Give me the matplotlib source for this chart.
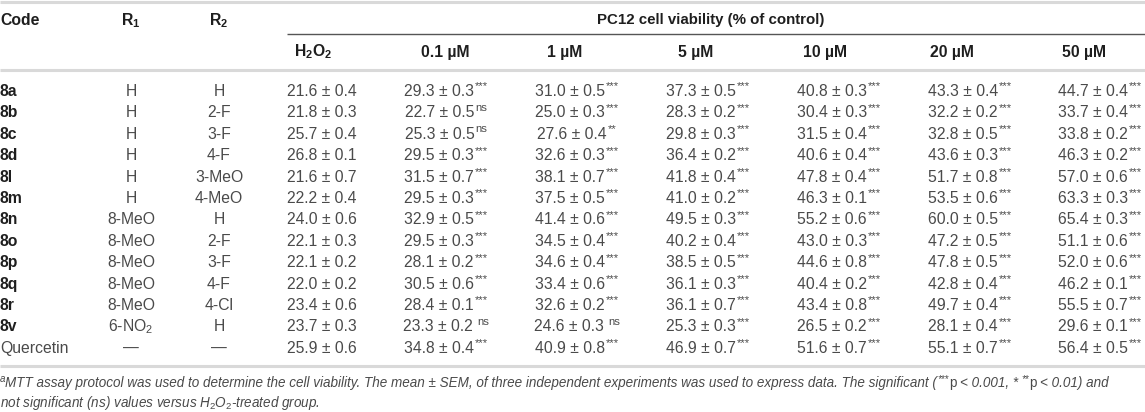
import matplotlib
matplotlib.use('Agg')
import matplotlib.pyplot as plt

plt.rcParams['font.family'] = ['Liberation Sans', 'DejaVu Sans']
plt.rcParams['mathtext.fontset'] = 'custom'
plt.rcParams['mathtext.rm'] = 'Liberation Sans'
plt.rcParams['mathtext.it'] = 'Liberation Sans:italic'
plt.rcParams['mathtext.bf'] = 'Liberation Sans:bold'

# table data
codes = ['8a', '8b', '8c', '8d', '8l', '8m', '8n', '8o', '8p', '8q', '8r', '8v', 'Quercetin']
r1 = ['H', 'H', 'H', 'H', 'H', 'H', '8-MeO', '8-MeO', '8-MeO', '8-MeO', '8-MeO', '6-NO$_2$', '—']
r2 = ['H', '2-F', '3-F', '4-F', '3-MeO', '4-MeO', 'H', '2-F', '3-F', '4-F', '4-Cl', 'H', '—']

conc_labels = ['$\\mathbf{H_2O_2}$', '0.1 µM', '1 µM', '5 µM', '10 µM', '20 µM', '50 µM']

h2o2_mean = [21.6, 21.8, 25.7, 26.8, 21.6, 22.2, 24.0, 22.1, 22.1, 22.0, 23.4, 23.7, 25.9]
h2o2_sem = [0.4, 0.3, 0.4, 0.1, 0.7, 0.4, 0.6, 0.3, 0.2, 0.2, 0.6, 0.3, 0.6]

c01_mean = [29.3, 22.7, 25.3, 29.5, 31.5, 29.5, 32.9, 29.5, 28.1, 30.5, 28.4, 23.3, 34.8]
c01_sem = [0.3, 0.5, 0.5, 0.3, 0.7, 0.3, 0.5, 0.3, 0.2, 0.6, 0.1, 0.2, 0.4]
c01_sig = ['***', 'ns', 'ns', '***', '***', '***', '***', '***', '***', '***', '***', ' ns', '***']

c1_mean = [31.0, 25.0, 27.6, 32.6, 38.1, 37.5, 41.4, 34.5, 34.6, 33.4, 32.6, 24.6, 40.9]
c1_sem = [0.5, 0.3, 0.4, 0.3, 0.7, 0.5, 0.6, 0.4, 0.4, 0.6, 0.2, 0.3, 0.8]
c1_sig = ['***', '***', '**', '***', '***', '***', '***', '***', '***', '***', '***', ' ns', '***']

c5_mean = [37.3, 28.3, 29.8, 36.4, 41.8, 41.0, 49.5, 40.2, 38.5, 36.1, 36.1, 25.3, 46.9]
c5_sem = [0.5, 0.2, 0.3, 0.2, 0.4, 0.2, 0.3, 0.4, 0.5, 0.3, 0.7, 0.3, 0.7]

c10_mean = [40.8, 30.4, 31.5, 40.6, 47.8, 46.3, 55.2, 43.0, 44.6, 40.4, 43.4, 26.5, 51.6]
c10_sem = [0.3, 0.3, 0.4, 0.4, 0.4, 0.1, 0.6, 0.3, 0.8, 0.2, 0.8, 0.2, 0.7]

c20_mean = [43.3, 32.2, 32.8, 43.6, 51.7, 53.5, 60.0, 47.2, 47.8, 42.8, 49.7, 28.1, 55.1]
c20_sem = [0.4, 0.2, 0.5, 0.3, 0.8, 0.6, 0.5, 0.5, 0.5, 0.4, 0.4, 0.4, 0.7]

c50_mean = [44.7, 33.7, 33.8, 46.3, 57.0, 63.3, 65.4, 51.1, 52.0, 46.2, 55.5, 29.6, 56.4]
c50_sem = [0.4, 0.4, 0.2, 0.2, 0.6, 0.3, 0.3, 0.6, 0.6, 0.1, 0.7, 0.1, 0.5]

other_sig = ['***'] * 13

W, H = 1145, 412
fig = plt.figure(figsize=(W / 100, H / 100), dpi=100)
ax = fig.add_axes([0, 0, 1, 1])
ax.set_xlim(0, W)
ax.set_ylim(H, 0)
ax.axis('off')
renderer = fig.canvas.get_renderer()

dark = '#1e1e1e'
txt = '#4a4a4a'
rule = '#d9d9d9'
fs = 11.3


def inline(x, y, parts, align='left', **kw):
    # parts: (text, kind, gap) laid out left to right; kind 'n' normal, 's' superscript, 'u' upright
    size = kw.pop('fontsize')
    objs, width = [], 0
    for s, kind, gap in parts:
        width += gap
        if kind == 's':
            t = ax.text(0, y - size * 0.45, s, fontsize=size * 0.72, va='center', ha='left', **kw)
        elif kind == 'u':
            t = ax.text(0, y, s, fontsize=size, va='center', ha='left',
                        **{**kw, 'style': 'normal'})
        else:
            t = ax.text(0, y, s, fontsize=size, va='center', ha='left', **kw)
        objs.append((t, width))
        width += t.get_window_extent(renderer).width
    left = x - width / 2 if align == 'center' else x
    for t, off in objs:
        t.set_x(left + off)


# rules
ax.plot([0, W], [1.5, 1.5], color=rule, lw=2.2, solid_capstyle='butt')
ax.plot([287, W], [34, 34], color='#555555', lw=1.0, solid_capstyle='butt')
ax.plot([0, W], [70, 70], color=rule, lw=2.2, solid_capstyle='butt')
ax.plot([0, W], [366, 366], color=rule, lw=2.2, solid_capstyle='butt')

# header
ax.text(0, 20, 'Code', fontsize=fs, fontweight='bold', color=dark, ha='left', va='center')
ax.text(131, 21, '$\\mathbf{R_1}$', fontsize=fs, color=dark, ha='center', va='center')
ax.text(219, 21, '$\\mathbf{R_2}$', fontsize=fs, color=dark, ha='center', va='center')
ax.text(711, 20, 'PC12 cell viability (% of control)', fontsize=10.8, fontweight='bold',
        color=dark, ha='center', va='center')

head_x = [313, 445, 565, 696, 825, 952, 1084]
val_x = [322, 446, 577, 708, 839, 970, 1100]
for x, lab in zip(head_x, conc_labels):
    ax.text(x, 52, lab, fontsize=fs, fontweight='bold', color=dark, ha='center', va='center')

columns = [
    (h2o2_mean, h2o2_sem, [''] * 13),
    (c01_mean, c01_sem, c01_sig),
    (c1_mean, c1_sem, c1_sig),
    (c5_mean, c5_sem, other_sig),
    (c10_mean, c10_sem, other_sig),
    (c20_mean, c20_sem, other_sig),
    (c50_mean, c50_sem, other_sig),
]

y0, dy = 91.5, 21.4
for i, code in enumerate(codes):
    y = y0 + i * dy
    is_bold = code != 'Quercetin'
    ax.text(0, y, code, fontsize=fs, fontweight='bold' if is_bold else 'normal',
            color=dark if is_bold else txt, ha='left', va='center')
    ax.text(131, y, r1[i], fontsize=fs, color=txt, ha='center', va='center')
    ax.text(219, y, r2[i], fontsize=fs, color=txt, ha='center', va='center')
    for x, (means, sems, sigs) in zip(val_x, columns):
        parts = [(f'{means[i]:.1f} ± {sems[i]:.1f}', 'n', 0)]
        sig = sigs[i]
        if sig.strip():
            parts.append((sig.strip(), 's', 4.5 if sig.startswith(' ') else 0.8))
        inline(x, y, parts, align='center', fontsize=fs, color=txt)

# footnote
fn = 9.75
inline(0, 383, [('a', 's', 0),
                ('MTT assay protocol was used to determine the cell viability. The mean ± SEM, '
                 'of three independent experiments was used to express data. The significant (', 'n', 0),
                ('***', 's', 0.5), ('p', 'u', 0.5), ('< 0.001, *', 'n', 3),
                ('**', 's', 3), ('p', 'u', 0.5), ('< 0.01) and', 'n', 3)],
       fontsize=fn, style='italic', color=txt)
ax.text(0, 403, 'not significant (ns) values versus $\\mathit{H_2O_2}$-treated group.',
        fontsize=fn, style='italic', color=txt, ha='left', va='center')

fig.savefig('out.png', dpi=100)
